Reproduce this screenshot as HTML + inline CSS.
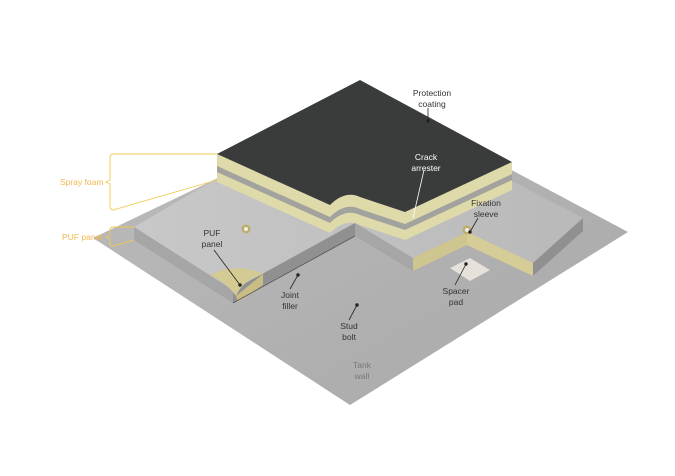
<!DOCTYPE html>
<html><head><meta charset="utf-8"><style>
html,body{margin:0;padding:0;background:#fff}
svg{display:block}
text{font-family:"Liberation Sans",sans-serif;font-size:8.5px}
</style></head><body>
<svg width="675" height="476" viewBox="0 0 675 476">
<defs>
<linearGradient id="plate" x1="0" y1="0" x2="1" y2="1"><stop offset="0" stop-color="#bcbcbc"/><stop offset="1" stop-color="#a8a8a8"/></linearGradient>
<linearGradient id="ptop" x1="0" y1="0" x2="1" y2="0"><stop offset="0" stop-color="#c8c8c8"/><stop offset="1" stop-color="#b9b9b9"/></linearGradient>
</defs>
<polygon points="93,238 380,100 628,232 350,405" fill="url(#plate)"/>
<polygon points="134,227 233,290 355,223 413,258 467,232 533,263 583,218 500,175 300,130" fill="url(#ptop)"/>
<polygon points="134,227 233,290 233,303 134,240" fill="#a6a6a6"/>
<polygon points="233,290 355,223 355,236 233,303" fill="#909090"/>
<polygon points="355,223 413,258 413,271 355,236" fill="#a6a6a6"/>
<polygon points="413,258 467,232 467,245 413,271" fill="#cfc58f"/>
<polygon points="467,232 533,263 533,276 467,245" fill="#d6cc97"/>
<polygon points="533,263 583,218 583,231 533,276" fill="#909090"/>
<path d="M210,275 Q236,262 263,274 Q243,280 236,296 Q226,282 210,275 Z" fill="#d4ca93"/>
<path d="M236,296 L263,274 L263,285 L238,302 Z" fill="#c7bd85"/>
<line x1="233" y1="303" x2="355" y2="236" stroke="#555" stroke-width="0.8"/>
<polygon points="450,268 470,258 490,270 470,281" fill="#e6e2da"/>
<circle cx="246" cy="229" r="4.5" fill="#bfae6a"/><circle cx="246" cy="229" r="2" fill="#eee"/>
<circle cx="467" cy="230" r="4.5" fill="#bfae6a"/><circle cx="467" cy="230" r="2" fill="#eee"/>
<path d="M217,154 L330,205 Q345,190 360,197 L405,212 L512,162 L512,190 L405,240 L360,225 Q345,218 330,233 L217,182 Z" fill="#dedaa9"/>
<path d="M217,166 L330,217 Q345,202 360,209 L405,224 L512,174 L512,180 L405,230 L360,215 Q345,208 330,223 L217,172 Z" fill="#a2a29e"/>
<path d="M217,154 L360,80 L512,162 L405,212 L360,197 Q345,190 330,205 Z" fill="#3a3c3b"/>
<g stroke="#222" stroke-width="0.8" fill="#222">
<line x1="428" y1="108" x2="428" y2="121"/><circle cx="428" cy="121" r="1.3"/>
<line x1="478" y1="218" x2="470" y2="232"/><circle cx="470" cy="232" r="1.3"/>
<line x1="214" y1="250" x2="240" y2="285"/><circle cx="240" cy="285" r="1.3"/>
<line x1="290" y1="289" x2="298" y2="275"/><circle cx="298" cy="275" r="1.3"/>
<line x1="349" y1="320" x2="357" y2="305"/><circle cx="357" cy="305" r="1.3"/>
<line x1="455" y1="285" x2="466" y2="264"/><circle cx="466" cy="264" r="1.3"/>
</g>
<line x1="424" y1="170" x2="413" y2="218" stroke="#fff" stroke-width="0.8"/>
<g stroke="#f2c94c" stroke-width="0.9" fill="none">
<path d="M217,154 L113,154 Q110,154 110,158 L110,180 L106,182 L110,184 L110,206 Q110,210 113,210 L217,180"/>
<path d="M134,227 L113,227 Q110,227 110,230 L110,235 L106,237 L110,239 L110,243 Q110,246 113,246 L134,240"/>
</g>
<g font-size="8" fill="#f2b84b" style="font-size:8px">
<text x="60" y="185">Spray foam</text>
<text x="62" y="240">PUF panel</text>
</g>
<g text-anchor="middle" fill="#333">
<text x="432" y="96">Protection</text><text x="432" y="107">coating</text>
<text x="486" y="206">Fixation</text><text x="486" y="217">sleeve</text>
<text x="212" y="236">PUF</text><text x="212" y="247">panel</text>
<text x="290" y="298">Joint</text><text x="290" y="309">filler</text>
<text x="349" y="329">Stud</text><text x="349" y="340">bolt</text>
<text x="456" y="294">Spacer</text><text x="456" y="305">pad</text>
<text x="362" y="368" fill="#777">Tank</text><text x="362" y="379" fill="#777">wall</text>
</g>
<g text-anchor="middle" fill="#fff">
<text x="426" y="160">Crack</text><text x="426" y="171">arrester</text>
</g>
</svg>
</body></html>
